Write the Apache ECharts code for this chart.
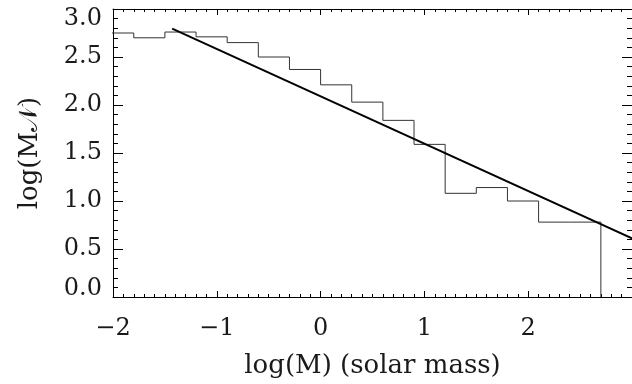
<!DOCTYPE html>
<html>
<head>
<meta charset="utf-8">
<script src="https://cdn.jsdelivr.net/npm/echarts@6/dist/echarts.min.js"></script>
<style>html,body{margin:0;padding:0;background:#fff}#c{width:632px;height:384px}</style>
</head>
<body>
<div id="c"></div>
<script>
// Histogram bin edges (log M) and values log(M N)
const binEdges = [-2.1, -1.8, -1.5, -1.2, -0.9, -0.6, -0.3, 0.0, 0.3, 0.6, 0.9, 1.2, 1.5, 1.8, 2.1, 2.4, 2.7];
const binValues = [2.75, 2.70, 2.76, 2.71, 2.65, 2.50, 2.37, 2.21, 2.03, 1.84, 1.59, 1.08, 1.14, 1.00, 0.78, 0.78];
// Power-law fit line endpoints
const fitX = [-1.43, 3.0];
const fitY = [2.795, 0.61];
// Axis ticks
const xTicks = [-2, -1, 0, 1, 2];
const yTicks = [0.0, 0.5, 1.0, 1.5, 2.0, 2.5, 3.0];

const histPts = [];
for (let i = 0; i < binValues.length; i++) {
  histPts.push([binEdges[i], binValues[i]]);
  histPts.push([binEdges[i + 1], binValues[i]]);
}
histPts.push([binEdges[binEdges.length - 1], 0]);

const fitPts = fitX.map((x, i) => [x, fitY[i]]);

const FONT = 'DejaVu Serif';
const TXT = '#1a1a1a';
const fmtX = v => (v < 0 ? '\u2212' + (-v) : String(v));
const fmtY = v => {
  const s = v.toFixed(1);
  if (v >= 3) return '{dn|' + s + '}';
  if (v <= 0) return '{up|' + s + '}';
  return '{n|' + s + '}';
};
const yRich = {
  n: { fontFamily: FONT, fontSize: 24, color: TXT },
  dn: { fontFamily: FONT, fontSize: 24, color: TXT, padding: [20, 0, 0, 0] },
  up: { fontFamily: FONT, fontSize: 24, color: TXT, padding: [0, 0, 17, 0] }
};

function xAx(pos, showLabel) {
  return {
    type: 'value', position: pos, min: -2, max: 3, interval: 1,
    axisLine: { show: true, onZero: false, lineStyle: { color: '#000', width: 1 } },
    axisTick: { show: true, inside: true, length: 6, lineStyle: { color: '#000' } },
    minorTick: { show: true, splitNumber: 10, length: 3, lineStyle: { color: '#000' } },
    splitLine: { show: false }, minorSplitLine: { show: false },
    axisLabel: { show: showLabel, formatter: fmtX, fontFamily: FONT, fontSize: 24, color: TXT, margin: 20,
      customValues: xTicks },
    name: showLabel ? 'log(M) (solar mass)' : '',
    nameLocation: 'middle', nameGap: 56,
    nameTextStyle: { fontFamily: FONT, fontSize: 26, color: TXT }
  };
}
function yAx(pos, showLabel) {
  return {
    type: 'value', position: pos, min: 0, max: 3, interval: 0.5,
    axisLine: { show: true, onZero: false, lineStyle: { color: '#000', width: 1 } },
    axisTick: { show: true, inside: true, length: 10, lineStyle: { color: '#000' } },
    minorTick: { show: true, splitNumber: 5, length: 5, lineStyle: { color: '#000' } },
    splitLine: { show: false }, minorSplitLine: { show: false },
    axisLabel: { show: showLabel, formatter: fmtY, rich: yRich, fontFamily: FONT, fontSize: 24, color: TXT, margin: 11,
      customValues: yTicks },
    name: showLabel ? 'log(M\uD835\uDCA9)' : '',
    nameLocation: 'middle', nameGap: 70, nameRotate: 90,
    nameTextStyle: { fontFamily: FONT, fontSize: 26, color: TXT }
  };
}

const chart = echarts.init(document.getElementById('c'), null, { renderer: 'canvas' });
chart.setOption({
  animation: false,
  backgroundColor: '#fff',
  grid: { left: 113, top: 9, width: 527, height: 288, containLabel: false },
  xAxis: [xAx('bottom', true), xAx('top', false)],
  yAxis: [yAx('left', true), yAx('right', false)],
  series: [
    { type: 'line', data: histPts, xAxisIndex: 0, yAxisIndex: 0, showSymbol: false, symbol: 'none',
      lineStyle: { color: '#333', width: 1 }, clip: true },
    { type: 'line', data: fitPts, xAxisIndex: 0, yAxisIndex: 0, showSymbol: false, symbol: 'none',
      lineStyle: { color: '#000', width: 2 }, clip: true }
  ]
});
</script>
</body>
</html>
